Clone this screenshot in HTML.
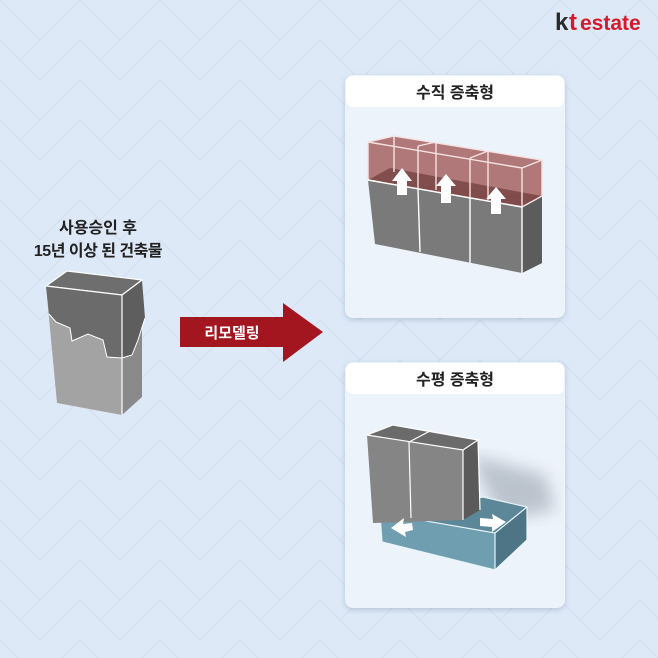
<!DOCTYPE html>
<html><head><meta charset="utf-8"><style>
html,body{margin:0;padding:0;width:658px;height:658px;overflow:hidden;background:#dde9f7}
svg{display:block}
text{font-family:"Liberation Sans","Noto Sans CJK KR",sans-serif;font-weight:bold}
</style></head><body>
<svg width="658" height="658" viewBox="0 0 658 658" xmlns="http://www.w3.org/2000/svg">
<defs>
<pattern id="hb" width="80" height="80" patternUnits="userSpaceOnUse">
<path d="M0 0 L40 40 L80 0 M0 40 L40 80 L80 40 M-20 20 L20 -20 M20 60 L60 20 M60 100 L100 60" stroke="#d3deee" stroke-width="1.2" fill="none"/>
</pattern>
<filter id="sh" x="-10%" y="-10%" width="120%" height="120%"><feDropShadow dx="0" dy="2" stdDeviation="3" flood-color="#8a9bb5" flood-opacity="0.45"/></filter>
<filter id="blur"><feGaussianBlur stdDeviation="8"/></filter>
</defs>
<rect width="658" height="658" fill="#dde9f7"/>
<rect width="658" height="658" fill="url(#hb)"/>

<!-- logo -->
<text x="555" y="30" font-size="24" fill="#2a2a2a">k</text>
<text x="569" y="30" font-size="24" fill="#d7192c">t</text>
<text x="580" y="30" font-size="21" fill="#d7192c">estate</text>

<!-- left label -->
<text x="98" y="233" font-size="16" fill="#222" text-anchor="middle">사용승인 후</text>
<text x="98" y="256" font-size="16" fill="#222" text-anchor="middle" letter-spacing="-0.5">15년 이상 된 건축물</text>

<!-- left building -->
<polygon points="67,271 142,280 122,295 46,286" fill="#6e6e6e" stroke="#fff" stroke-width="1.2"/>
<polygon points="46,286 122,295 122,415 57,403" fill="#a3a3a3"/>
<polygon points="46,286 122,295 122,358 107,357 103,340 88,334 72,341 70,328 56,322 49,314" fill="#6b6b6b"/>
<polygon points="122,295 142,280 142,397 122,415" fill="#8a8a8a"/>
<polygon points="122,295 142,280 145,318 138,340 132,355 122,358" fill="#5e5e5e"/>
<polyline points="49,314 56,322 70,328 72,341 88,334 103,340 107,357 122,358 132,355 138,340 145,318" fill="none" stroke="#fff" stroke-width="1"/>
<polyline points="46,286 122,295 142,280" fill="none" stroke="#fff" stroke-width="1.2"/>
<line x1="122" y1="295" x2="122" y2="415" stroke="#fff" stroke-width="1.2"/>

<!-- arrow -->
<polygon points="180,317 283,317 283,303 323,332 283,362 283,347 180,347" fill="#a3161f"/>
<text x="232" y="338" font-size="15" fill="#fff" text-anchor="middle">리모델링</text>

<!-- panel 1 -->
<rect x="345" y="75" width="220" height="243" rx="8" fill="#edf3fb" filter="url(#sh)"/>
<rect x="346" y="76" width="218" height="31" rx="7" fill="#fff"/>
<text x="455" y="98" font-size="16" fill="#222" text-anchor="middle">수직 증축형</text>
<polygon points="368,180 542,196 542,263 522,273 375,244" fill="#7a7a7a"/>
<polygon points="522,207 542,196 542,263 522,273" fill="#5c5c5c"/>
<polygon points="368,142 394,136 542,160 542,196 522,207 368,180" fill="#a86a6a" opacity="0.9"/>
<polygon points="368,180 390,168 542,196 522,207" fill="#7d4848" opacity="0.9"/>
<g stroke="#f6e3e3" stroke-width="1.4" fill="none">
<polyline points="368,142 394,136 542,160 542,196 522,207 368,180 368,142"/>
<line x1="368" y1="142" x2="522" y2="168"/>
<line x1="522" y1="168" x2="542" y2="160"/>
<line x1="522" y1="168" x2="522" y2="207"/>
<line x1="394" y1="136" x2="394" y2="172"/>
<line x1="418" y1="146" x2="418" y2="188"/>
<line x1="436" y1="142" x2="436" y2="190"/>
<line x1="470" y1="158" x2="470" y2="198"/>
<line x1="488" y1="151" x2="488" y2="200"/>
<line x1="418" y1="146" x2="436" y2="142"/>
<line x1="470" y1="158" x2="488" y2="151"/>
</g>
<g stroke="#fff" stroke-width="1.4">
<line x1="368" y1="180" x2="522" y2="207"/>
<line x1="418" y1="189" x2="420" y2="252"/>
<line x1="470" y1="198" x2="470" y2="263"/>
<line x1="522" y1="207" x2="522" y2="273"/>
</g>
<g fill="#fff">
<polygon points="392,181 402,168 412,181 407,181 407,195 397,195 397,181"/>
<polygon points="436,186 446,174 456,186 451,186 451,203 441,203 441,186"/>
<polygon points="486,199 496,187 506,199 501,199 501,214 491,214 491,199"/>
</g>

<!-- panel 2 -->
<rect x="345" y="362" width="220" height="246" rx="8" fill="#edf3fb" filter="url(#sh)"/>
<rect x="346" y="363" width="218" height="31" rx="7" fill="#fff"/>
<text x="455" y="385" font-size="16" fill="#222" text-anchor="middle">수평 증축형</text>
<polygon points="470,455 545,475 555,510 500,520" fill="#9aa3ad" opacity="0.6" filter="url(#blur)"/>
<polygon points="380,513 483,497 527,507 495,533" fill="#5b8798"/>
<polygon points="380,513 495,533 495,570 382,542" fill="#6f9eb0"/>
<polygon points="495,533 527,507 527,540 495,570" fill="#4d7585"/>
<g stroke="#e8f4f8" stroke-width="1.2" fill="none">
<polyline points="380,513 483,497 527,507 495,533 380,513"/>
<polyline points="380,513 382,542 495,570 527,540 527,507"/>
<line x1="495" y1="533" x2="495" y2="570"/>
</g>
<polygon points="367,435 393,425 478,440 463,450" fill="#6b6b6b"/>
<polygon points="367,435 463,450 463,520 373,523" fill="#858585"/>
<polygon points="463,450 478,440 480,510 463,520" fill="#5a5a5a"/>
<g stroke="#fff" stroke-width="1.2" fill="none">
<polyline points="367,435 393,425 478,440 463,450 367,435"/>
<line x1="463" y1="450" x2="463" y2="520"/>
<line x1="478" y1="440" x2="480" y2="510"/>
<line x1="409" y1="442" x2="411" y2="518"/>
<line x1="409" y1="442" x2="432" y2="430"/>
</g>
<g fill="#fff">
<polygon points="391,528 404,518 403,524 412,523 413,530 405,532 406,537"/>
<polygon points="506,522 492,514 493,519 480,518 480,526 492,527 492,532"/>
</g>
</svg>
</body></html>
